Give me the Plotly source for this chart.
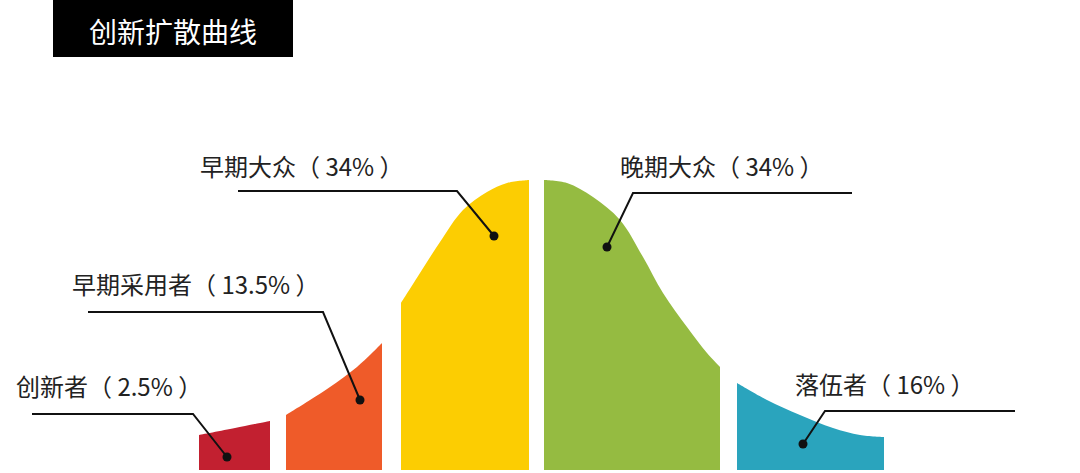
import plotly.graph_objects as go

# -------------------------------------------------------
# Data: segments of the diffusion curve (top edge)
# heights are measured upward from the baseline
# -------------------------------------------------------
names = ["创新者", "早期采用者", "早期大众", "晚期大众", "落伍者"]
shares = ["2.5%", "13.5%", "34%", "34%", "16%"]
colors = ["#c22030", "#ef5b29", "#fccd02", "#95bb41", "#2aa4bd"]

innov_x = [199, 235, 270]
innov_h = [35, 42, 49]
early_adopt_x = [286, 310, 330, 357, 382]
early_adopt_h = [55, 70, 83, 103, 127]
early_major_x = [401, 420, 440, 463, 487, 507, 529]
early_major_h = [167, 197, 228, 260, 278, 287, 290]
late_major_x = [544, 567, 593, 620, 643, 663, 687, 707, 720]
late_major_h = [290, 287, 273, 250, 213, 177, 143, 117, 103]
laggard_x = [737, 767, 800, 833, 860, 884]
laggard_h = [87, 70, 55, 42, 35, 33]

seg_x = [innov_x, early_adopt_x, early_major_x, late_major_x, laggard_x]
seg_h = [innov_h, early_adopt_h, early_major_h, late_major_h, laggard_h]

# label layout: text anchor (left x, y), leader line (start x, end x, y), dot (x, y)
label_pos = [
    dict(tx=14, ty=85, lx0=32, lx1=193, ly=56, dx=227, dy=13),
    dict(tx=70, ty=187, lx0=88, lx1=323, ly=158, dx=360, dy=70),
    dict(tx=198, ty=305, lx0=238, lx1=457, ly=279, dx=494, dy=234),
    dict(tx=618, ty=305, lx0=852, lx1=633, ly=277, dx=607, dy=223),
    dict(tx=793, ty=87, lx0=1015, lx1=825, ly=59, dx=803, dy=26),
]

FONT = "Noto Sans CJK SC"

fig = go.Figure()

# filled curve segments (corner points doubled so the spline keeps them sharp)
for xs, hs, c in zip(seg_x, seg_h, colors):
    px_ = [xs[0], xs[0], xs[0]] + xs + [xs[-1], xs[-1], xs[-1], xs[-1], xs[0], xs[0]]
    py_ = [0, 0, hs[0]] + hs + [hs[-1], hs[-1], 0, 0, 0, 0]
    fig.add_trace(go.Scatter(
        x=px_, y=py_, mode="lines", fill="toself",
        fillcolor=c, line=dict(width=0, color=c, shape="spline", smoothing=1),
        hoverinfo="skip", showlegend=False,
    ))

# leader lines + dots + labels
for name, share, p in zip(names, shares, label_pos):
    fig.add_trace(go.Scatter(
        x=[p["lx0"], p["lx1"], p["dx"]],
        y=[p["ly"], p["ly"], p["dy"]],
        mode="lines",
        line=dict(color="#111111", width=2),
        hoverinfo="skip", showlegend=False,
    ))
    fig.add_trace(go.Scatter(
        x=[p["dx"]], y=[p["dy"]], mode="markers",
        marker=dict(color="#111111", size=9),
        hoverinfo="skip", showlegend=False,
    ))
    fig.add_annotation(
        x=p["tx"], y=p["ty"], xref="x", yref="y",
        text=f"{name}（ {share} ）",
        showarrow=False, xanchor="left", yanchor="middle",
        font=dict(family=FONT, size=24, color="#222222"),
    )

# title box
fig.add_shape(
    type="rect", xref="x", yref="y",
    x0=53, x1=293, y0=413, y1=475,
    fillcolor="#000000", line=dict(width=0), layer="above",
)
fig.add_annotation(
    x=173, y=439, xref="x", yref="y",
    text="创新扩散曲线", showarrow=False,
    xanchor="center", yanchor="middle",
    font=dict(family=FONT, size=28, color="#ffffff"),
)

fig.update_layout(
    width=1080, height=473,
    margin=dict(l=0, r=0, t=0, b=0),
    paper_bgcolor="white", plot_bgcolor="white",
    xaxis=dict(range=[0, 1080], visible=False, fixedrange=True),
    yaxis=dict(range=[-3, 470], visible=False, fixedrange=True),
)

# drop the default page margin so the figure sits at the window corner
fig.write_html(
    "out.html",
    config={"displayModeBar": False},
    post_script="document.body.style.margin='0';",
)
